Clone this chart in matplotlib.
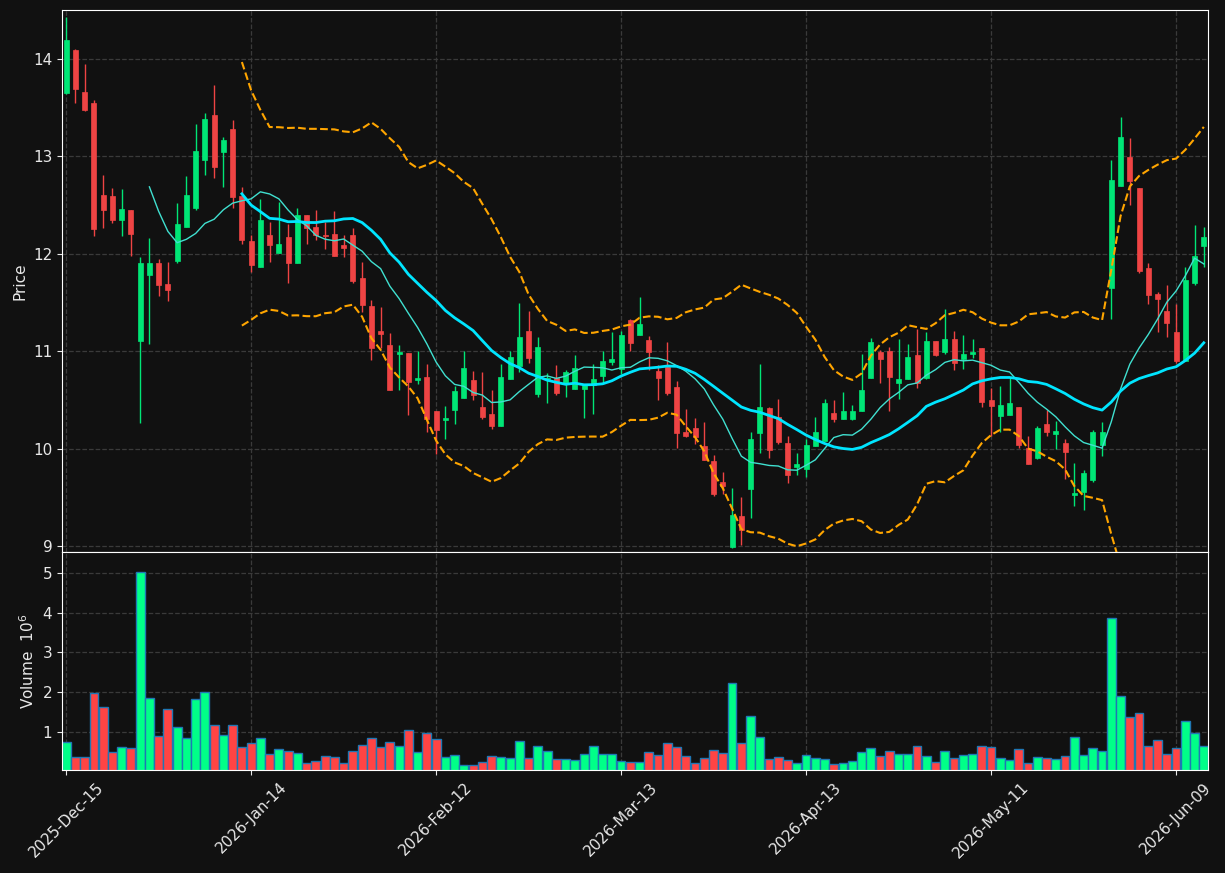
import numpy as np
import pandas as pd
import matplotlib
matplotlib.use("Agg")
import matplotlib.pyplot as plt

# daily OHLC + volume (millions)
opens = [13.65, 14.09, 13.66, 13.55, 12.60, 12.59, 12.35, 12.45, 11.10, 11.78,
         11.90, 11.69, 11.93, 12.27, 12.47, 12.96, 13.42, 13.04, 13.28, 12.59,
         12.13, 11.86, 12.19, 12.01, 12.17, 11.90, 12.40, 12.27, 12.19, 12.20,
         12.09, 12.19, 11.75, 11.46, 11.21, 11.06, 10.975, 10.98, 10.70, 10.74,
         10.39, 10.295, 10.395, 10.52, 10.70, 10.43, 10.355, 10.23, 10.715, 10.85,
         11.21, 10.56, 10.71, 10.73, 10.665, 10.615, 10.615, 10.65, 10.75, 10.885,
         10.82, 11.32, 11.17, 11.11, 10.80, 10.84, 10.63, 10.175, 10.21, 10.03,
         9.87, 9.66, 8.99, 9.31, 9.585, 10.165, 10.42, 10.33, 10.06, 9.815,
         9.795, 10.03, 10.08, 10.365, 10.305, 10.305, 10.39, 10.72, 10.99, 11.00,
         10.67, 10.71, 10.96, 10.73, 11.10, 10.99, 11.125, 10.92, 10.975, 11.03,
         10.50, 10.34, 10.35, 10.43, 10.01, 9.90, 10.25, 10.155, 10.06, 9.52,
         9.56, 9.68, 10.04, 11.65, 12.695, 12.99, 12.67, 11.85, 11.585, 11.41,
         11.195, 10.90, 11.70, 12.08]
highs = [14.43, 14.10, 13.95, 13.58, 12.81, 12.67, 12.66, 12.45, 11.97, 12.16,
         11.95, 11.92, 12.52, 12.80, 13.33, 13.44, 13.73, 13.20, 13.37, 12.68,
         12.19, 12.56, 12.33, 12.53, 12.30, 12.47, 12.40, 12.45, 12.33, 12.44,
         12.19, 12.26, 11.92, 11.53, 11.45, 11.19, 11.06, 10.98, 11.00, 10.87,
         10.39, 10.44, 10.645, 11.00, 10.80, 10.79, 10.60, 10.87, 11.00, 11.49,
         11.41, 11.15, 10.78, 10.86, 10.81, 10.96, 10.655, 10.87, 11.00, 11.20,
         11.21, 11.33, 11.56, 11.16, 10.86, 11.09, 10.69, 10.405, 10.31, 10.27,
         9.93, 9.76, 9.60, 9.50, 10.17, 10.87, 10.43, 10.505, 10.13, 9.955,
         10.10, 10.33, 10.505, 10.50, 10.58, 10.45, 10.97, 11.14, 11.01, 11.045,
         11.13, 11.075, 11.23, 11.20, 11.10, 11.435, 11.205, 11.17, 11.13, 11.03,
         10.62, 10.64, 10.73, 10.43, 10.125, 10.23, 10.395, 10.28, 10.10, 9.855,
         9.78, 10.195, 10.27, 12.965, 13.40, 13.19, 12.67, 11.90, 11.605, 11.68,
         11.48, 11.86, 12.29, 12.27]
lows = [13.64, 13.55, 13.46, 12.18, 12.26, 12.32, 12.18, 11.98, 10.26, 11.07,
        11.57, 11.51, 11.90, 12.27, 12.45, 12.81, 12.78, 12.68, 12.47, 12.10,
        11.81, 11.86, 11.92, 12.01, 11.70, 11.90, 12.10, 12.14, 12.05, 11.98,
        11.97, 11.70, 11.40, 10.91, 11.03, 10.60, 10.60, 10.35, 10.66, 10.17,
        9.95, 10.10, 10.25, 10.52, 10.50, 10.30, 10.20, 10.23, 10.715, 10.79,
        10.88, 10.535, 10.47, 10.555, 10.53, 10.615, 10.31, 10.36, 10.665, 10.855,
        10.765, 11.00, 11.17, 10.81, 10.50, 10.555, 10.01, 10.12, 10.05, 9.88,
        9.515, 9.53, 8.98, 9.01, 9.29, 9.96, 9.90, 10.045, 9.65, 9.735,
        9.71, 10.03, 10.08, 10.27, 10.305, 10.29, 10.39, 10.72, 10.67, 10.385,
        10.505, 10.71, 10.62, 10.71, 10.95, 10.97, 10.81, 10.82, 10.93, 10.43,
        10.13, 10.17, 10.35, 10.01, 9.84, 9.89, 10.125, 10.00, 9.69, 9.41,
        9.37, 9.66, 9.92, 11.33, 12.695, 12.505, 11.80, 11.48, 11.195, 11.15,
        10.88, 10.90, 11.68, 11.86]
closes = [14.19, 13.69, 13.47, 12.25, 12.45, 12.35, 12.46, 12.20, 11.90, 11.90,
          11.68, 11.63, 12.31, 12.60, 13.05, 13.38, 12.89, 13.17, 12.58, 12.14,
          11.88, 12.35, 12.09, 12.10, 11.90, 12.40, 12.26, 12.19, 12.18, 11.98,
          12.06, 11.72, 11.47, 11.03, 11.18, 10.60, 10.99, 10.68, 10.725, 10.30,
          10.19, 10.31, 10.59, 10.83, 10.55, 10.33, 10.23, 10.74, 10.94, 11.15,
          10.93, 11.04, 10.725, 10.575, 10.785, 10.83, 10.655, 10.71, 10.90, 10.92,
          11.165, 11.085, 11.28, 10.995, 10.73, 10.575, 10.165, 10.13, 10.12, 9.88,
          9.53, 9.615, 9.32, 9.165, 10.10, 10.43, 9.99, 10.07, 9.73, 9.84,
          10.04, 10.17, 10.47, 10.305, 10.39, 10.385, 10.60, 11.09, 10.92, 10.735,
          10.71, 10.94, 10.67, 11.10, 10.96, 11.125, 10.88, 10.97, 10.99, 10.48,
          10.44, 10.45, 10.47, 10.04, 9.84, 10.21, 10.17, 10.18, 9.97, 9.55,
          9.75, 10.17, 10.17, 12.76, 13.195, 12.75, 11.825, 11.58, 11.54, 11.285,
          10.90, 11.73, 11.98, 12.17]
volumes = [0.76, 0.38, 0.38, 1.98, 1.63, 0.49, 0.62, 0.60, 5.02, 1.85,
           0.90, 1.57, 1.14, 0.84, 1.83, 2.00, 1.19, 0.92, 1.17, 0.62,
           0.72, 0.865, 0.44, 0.57, 0.535, 0.47, 0.215, 0.28, 0.41, 0.385,
           0.215, 0.535, 0.67, 0.865, 0.62, 0.76, 0.66, 1.05, 0.49, 0.98,
           0.82, 0.37, 0.42, 0.165, 0.165, 0.24, 0.39, 0.37, 0.34, 0.77,
           0.34, 0.645, 0.52, 0.335, 0.335, 0.29, 0.44, 0.645, 0.44, 0.44,
           0.265, 0.24, 0.24, 0.49, 0.42, 0.72, 0.62, 0.39, 0.215, 0.34,
           0.545, 0.47, 2.24, 0.72, 1.405, 0.87, 0.315, 0.37, 0.29, 0.215,
           0.42, 0.34, 0.315, 0.19, 0.215, 0.265, 0.49, 0.595, 0.39, 0.52,
           0.44, 0.44, 0.645, 0.39, 0.24, 0.52, 0.34, 0.42, 0.44, 0.645,
           0.62, 0.34, 0.29, 0.57, 0.215, 0.37, 0.34, 0.315, 0.39, 0.87,
           0.42, 0.595, 0.52, 3.86, 1.91, 1.38, 1.48, 0.645, 0.80, 0.44,
           0.595, 1.28, 0.975, 0.645]

holidays = ["2025-12-25", "2026-01-01", "2026-01-19", "2026-02-16",
            "2026-04-03", "2026-05-25"]
dates = pd.date_range("2025-12-15", periods=len(closes),
                      freq=pd.offsets.CustomBusinessDay(holidays=holidays))

bg = "#111111"
up_c, dn_c = "#00e676", "#ef4444"
vup_c, vdn_c = "#00ff88", "#ff4444"
txt = "#e8e8e8"

o = np.array(opens); h = np.array(highs); l = np.array(lows); c = np.array(closes)
v = np.array(volumes)
x = np.arange(len(c))
up = c >= o

s = pd.Series(c)
ma10 = s.rolling(10).mean()
ma20 = s.rolling(20).mean()
sd20 = s.rolling(20).std(ddof=0)
bb_hi = ma20 + 2 * sd20
bb_lo = ma20 - 2 * sd20

fig = plt.figure(figsize=(12.25, 8.73), dpi=100, facecolor=bg)
ax = fig.add_axes([0.0506, 0.3677, 0.9355, 0.6208])
axv = fig.add_axes([0.0506, 0.118, 0.9355, 0.2497], sharex=ax)

for a in (ax, axv):
    a.set_facecolor(bg)
    for sp in a.spines.values():
        sp.set_color("white")
    a.tick_params(colors=txt, labelsize=11)
    a.grid(True, color="#3a3a3a", linestyle="--", linewidth=0.9)
    a.set_axisbelow(True)

# candles
cols = np.where(up, up_c, dn_c)
ax.vlines(x, l, h, colors=cols, linewidth=1)
body = np.maximum(np.abs(c - o), 0.01)
ax.bar(x, body, bottom=np.minimum(o, c), width=0.55, color=cols,
       edgecolor=cols, linewidth=0.5)

ax.plot(x, ma10, color="#40e0d0", linewidth=1)
ax.plot(x, ma20, color="#00e5ff", linewidth=2)
ax.plot(x, bb_hi, color="orange", linestyle="--", linewidth=1.5)
ax.plot(x, bb_lo, color="orange", linestyle="--", linewidth=1.5)

ax.set_ylim(l.min() - 0.04, h.max() + 0.07)
ax.set_xlim(-0.45, len(c) - 0.55)
ax.set_ylabel("Price", color=txt, fontsize=11)
ax.tick_params(labelbottom=False)

# volume
axv.bar(x, v, width=0.95, color=np.where(up, vup_c, vdn_c),
        edgecolor="#1f77b4", linewidth=1)
axv.set_ylim(0.3 * v.min(), 1.1 * v.max())
axv.set_yticks([1, 2, 3, 4, 5])
axv.set_ylabel("Volume  $10^6$", color=txt, fontsize=11)

ticks = np.arange(0, len(c), 20)
axv.set_xticks(ticks)
axv.set_xticklabels([dates[i].strftime("%Y-%b-%d") for i in ticks],
                    rotation=45, ha="center")

fig.savefig("out.png", dpi=100, facecolor=bg)
